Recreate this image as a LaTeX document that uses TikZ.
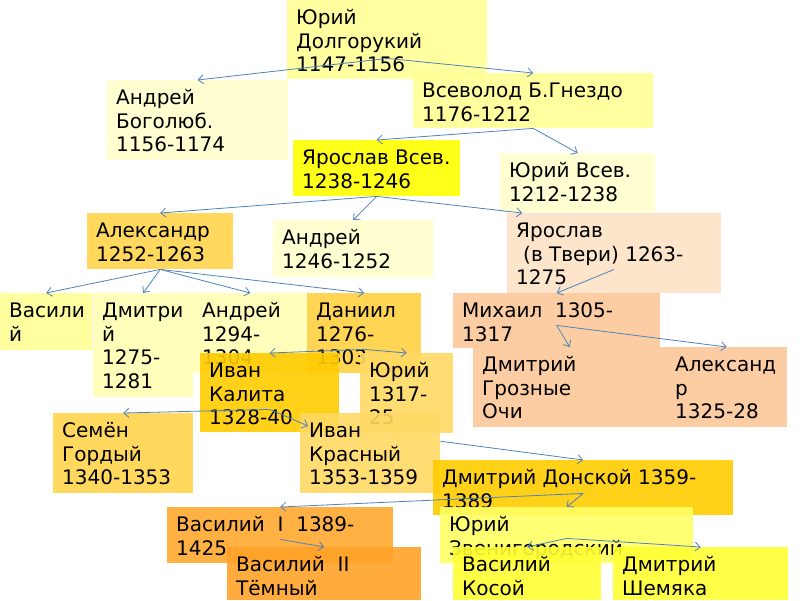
\documentclass[tikz,border=0pt]{standalone}
\usepackage{fontspec}
\setmainfont{DejaVu Sans}
\usepackage{xcolor}
\usepackage{tikz}
\usetikzlibrary{arrows.meta}

\definecolor{cYelA}{RGB}{255,255,150}
\definecolor{cPale}{RGB}{255,255,204}
\definecolor{cYel}{RGB}{255,255,0}
\definecolor{cGold}{RGB}{255,212,75}
\definecolor{cPeachL}{RGB}{252,226,196}
\definecolor{cYelD}{RGB}{255,255,180}
\definecolor{cGoldD}{RGB}{255,208,64}
\definecolor{cPeach}{RGB}{252,200,152}
\definecolor{cGoldL}{RGB}{255,217,100}
\definecolor{cDeep}{RGB}{255,204,0}
\definecolor{cOrL}{RGB}{255,168,48}
\definecolor{cYelB}{RGB}{255,255,100}
\definecolor{cOr}{RGB}{255,162,40}
\definecolor{cYelC}{RGB}{255,255,51}
\definecolor{linkblue}{RGB}{79,129,189}

\tikzset{
	rbox/.style={fill=#1, fill opacity=0.9, text opacity=1, anchor=north west,
		inner xsep=9pt, inner ysep=0pt, font=\fontsize{20}{23.5}\selectfont},
	link/.style={draw=linkblue, line width=0.8pt, -{Straight Barb[length=5pt,width=9pt]}}
}

\begin{document}
\begin{tikzpicture}[x=1pt,y=-1pt]
			\useasboundingbox (0,0) rectangle (800,600);
			\foreach \nm/\px/\py/\bw/\bh/\col/\txt in {
				yd/287/0/200/79/cYelA/{Юрий\\Долгорукий\\1147-1156},
				ab/107/80/181/80/cPale/{Андрей\\Боголюб.\\1156-1174},
				vs/413/73/240/55/cYelA/{Всеволод Б.Гнездо\\1176-1212},
				yv/293/140/167/56/cYel/{Ярослав Всев.\\1238-1246},
				yuv/500/153/155/59/cPale/{Юрий Всев.\\1212-1238},
				al/87/213/146/56/cGold/{Александр\\1252-1263},
				an/273/220/160/57/cPale/{Андрей\\1246-1252},
				tv/507/213/214/80/cPeachL/{Ярослав\\\hspace*{7pt}(в Твери) 1263-\\1275},
				va/0/293/92/57/cYelA/{Васили\\й},
				dm/93/293/100/104/cYelD/{Дмитри\\й\\1275-\\1281},
				anb/193/293/114/80/cYelD/{Андрей\\1294-\\1304},
				da/307/293/114/80/cGoldD/{Даниил\\1276-\\1303},
				mi/453/293/207/55/cPeach/{Михаил\ \ 1305-\\1317},
				dg/473/347/193/80/cPeach/{Дмитрий\\Грозные\\Очи},
				ax/666/347/121/80/cPeach/{Александ\\р\\1325-28},
				yu/360/353/93/80/cGoldL/{Юрий\\1317-\\25},
				ik/200/353/139/79/cDeep/{Иван\\Калита\\1328-40},
				se/53/413/140/80/cGold/{Семён\\Гордый\\1340-1353},
				ikr/300/413/140/80/cGoldL/{Иван\\Красный\\1353-1359},
				dd/433/460/300/55/cDeep/{Дмитрий Донской 1359-\\1389},
				vo/167/507/226/56/cOrL/{Василий\ \ I\ \ 1389-\\1425},
				yz/440/507/253/56/cYelB/{Юрий\\Звенигородский},
				vt/227/547/194/53/cOr/{Василий\ \ II\\Тёмный},
				vk/453/547/148/53/cYelC/{Василий\\Косой},
				sh/613/547/175/53/cYelC/{Дмитрий\\Шемяка}}{
				\node[rbox=\col] (\nm) at (\px,\py)
					{\parbox[t][\bh pt][t]{\dimexpr\bw pt-18pt\relax}{\raggedright\rule{0pt}{24.5pt}\txt}};
			}
			
			% connectors
			\foreach \b in {ab,vs}{
				\draw[link] ([yshift=21pt]yd.south)--(\b.north);
			}
			\foreach \b in {yv,yuv}{
				\draw[link] (vs.south)--(\b.north);
			}
			\foreach \b in {al,an}{
				\draw[link] (yv.south)--(\b.north);
			}
			\draw[link] (yv.south)--([xshift=-92pt]tv.north);
			\draw[link] ([yshift=24pt]tv.south)--(mi.north);
			\foreach \b in {va,dm,anb,da}{
				\draw[link] (al.south)--(\b.north);
			}
			\foreach \b in {ik,yu}{
				\draw[link] ([yshift=24pt]da.south)--(\b.north);
			}
			\foreach \b in {dg,ax}{
				\draw[link] ([yshift=23pt]mi.south)--(\b.north);
			}
			\draw[link] ([yshift=23pt]ik.south)--(se.north);
			\draw[link] ([yshift=23pt]ik.south)--([xshift=8pt,yshift=-13pt]ikr.north west);
			\draw[link] ([yshift=12pt]ikr.east)--(dd.north);
			\foreach \b in {vo,yz}{
				\draw[link] ([yshift=22pt]dd.south)--(\b.north);
			}
			\draw[link] ([yshift=24pt]vo.south)--(vt.north);
			\foreach \b in {vk,sh}{
				\draw[link] ([yshift=25pt]yz.south)--(\b.north);
			}
		\end{tikzpicture}
\end{document}
